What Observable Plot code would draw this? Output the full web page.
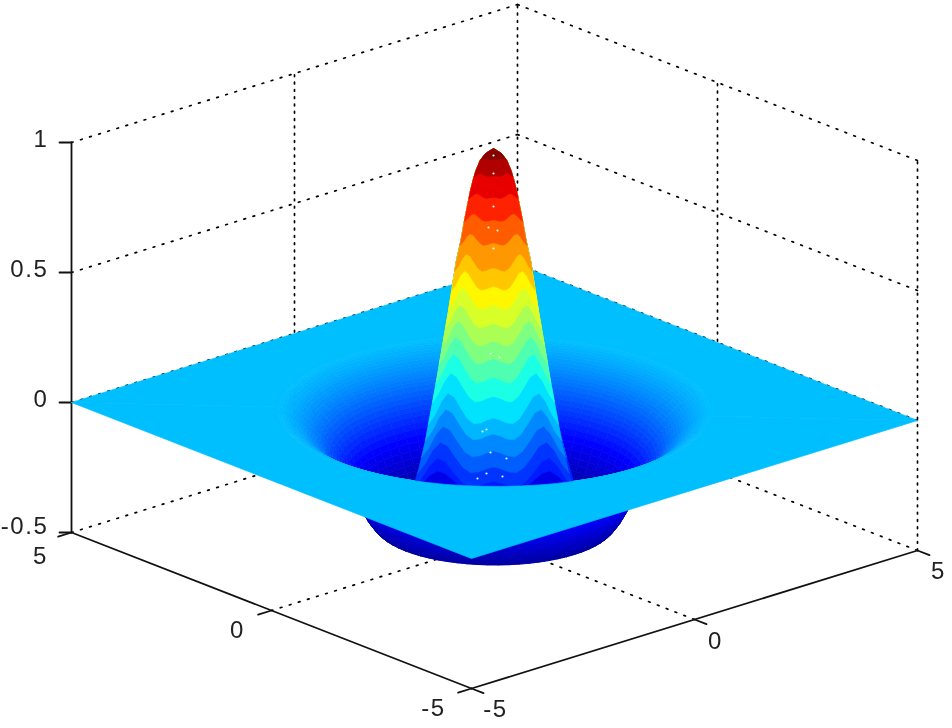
<!DOCTYPE html>
<html><head><meta charset="utf-8">
<script src="https://cdn.jsdelivr.net/npm/d3@7"></script>
<script src="https://cdn.jsdelivr.net/npm/@observablehq/plot@0.6"></script>
<style>
html,body{margin:0;padding:0;background:#fff}
svg{display:block;filter:blur(0.45px)}
svg text{letter-spacing:1.6px}
</style></head><body><div id="c"></div>
<script>
// axis tick labels
const zTicks=[1,0.5,0,-0.5];
const zLabels=["1","0.5","0","-0.5"];
const xyTicks=[-5,0,5];
const yLabelPos=[{t:"5",x:40,y:556},{t:"0",x:237,y:630},{t:"-5",x:433,y:708}];
const xLabelPos=[{t:"-5",x:495,y:709},{t:"0",x:715,y:641},{t:"5",x:938,y:571}];
// jet colour map, anchored on z
const jetZ=[-0.4545,-0.2727,0.0909,0.4545,0.8182,1];
const jetColors=["#00008f","#0000ff","#00ffff","#ffff00","#ff0000","#800000"];
// bowl radial profile
const bowlR=[1,1.1,1.2,1.3,1.4,1.5,1.6,1.7,1.8,1.9,2,2.05,2.1,2.15,2.2,2.25,2.3,2.35,2.4,2.45,2.5,2.55,2.6,2.65,2.7,2.75,2.8,2.85,2.9,2.95,3,3.05,3.1,3.15,3.2,3.25,3.3,3.35,3.4,3.45,3.5,3.55,3.6];
const bowlZ=[0,-.09,-.18,-.26,-.32,-.36,-.39,-.41,-.425,-.43,-.43,-.42,-.405,-.39,-.37,-.35,-.33,-.305,-.28,-.26,-.24,-.22,-.2,-.185,-.17,-.155,-.14,-.125,-.11,-.1,-.09,-.08,-.07,-.06,-.05,-.042,-.034,-.027,-.02,-.014,-.009,-.004,0];
const holeR=3.6;
// peak silhouette, picture rows and half widths
const peakCx=493;
const peakY=[148,153,160,170,180,190,200,220,240,260,285,310,350,380,410,440,470,482,492];
const peakHW=[0,8,13.3,17.5,20.5,23,25,29,32.5,37,41,45,52,57,62.5,68,75,79,81];
// colour bands on the peak: row where the arches top out, and arch height
const bandY=[470,457,441,425,408,392,372,353,336,320,304,287,270,253,233,213,193,173,158];
const bandAmp=[20,30,32,32,32,32,30,30,28,26,24,22,20,18,12,8,5,3,1];
// arch shape across the peak
const archU=[-1,-.9,-.8,-.7,-.6,-.5,-.4,-.3,-.2,-.1,0,.1,.2,.3,.4,.5,.6,.7,.8,.9,1];
const archH=[0,.3,.72,.98,.85,.5,.18,.02,.05,.14,.2,.14,.05,.02,.18,.5,.85,.98,.72,.3,0];
// pale specks on the peak
const speckX=[493,493,493,488,497,493,490,499,486,482,490,506,486,502,477];
const speckY=[155,173,206,227,230,248,353,357,429,431,452,458,473,476,478];

// projection of the 3D axes box on the picture
const P=(x,y,z)=>[471+(x+5)*44.6+(y+5)*-40, 688+(x+5)*-13.8+(y+5)*-15.6+(z+0.5)*-260];
const seg=(id,a,b)=>[a,b].map(p=>{const [x,y]=P(...p);return {id,x,y};});

const horizontals=[],verticals=[],solids=[];
let n=0;
for(const z of zTicks){
  horizontals.push(...seg(n++,[-5,5,z],[5,5,z]));
  horizontals.push(...seg(n++,[5,5,z],[5,-5,z]));
}
horizontals.push(...seg(n++,[0,5,-.5],[0,-5,-.5]));
horizontals.push(...seg(n++,[5,0,-.5],[-5,0,-.5]));
for(const t of [0,5]) verticals.push(...seg(n++,[t,5,-.5],[t,5,1]));
for(const t of [0,-5]) verticals.push(...seg(n++,[5,t,-.5],[5,t,1]));

solids.push(...seg(n++,[-5,5,-.5],[-5,5,1]));
solids.push(...seg(n++,[-5,5,-.5],[-5,-5,-.5]));
solids.push(...seg(n++,[-5,-5,-.5],[5,-5,-.5]));
for(const z of zTicks){const [x,y]=P(-5,5,z);solids.push({id:n,x,y},{id:n++,x:x-12,y});}
for(const t of xyTicks){
  solids.push(...seg(n++,[t,-5,-.5],[t,-5.3,-.5]));
  solids.push(...seg(n++,[-5,t,-.5],[-5.3,t,-.5]));
}

// bowl polygons, far ones first
const rad=d=>d*Math.PI/180;
const quads=[];
const step=5;
for(let i=0;i<bowlR.length-1;i++) for(let a=0;a<360;a+=step){
  const pts=[[bowlR[i],a,bowlZ[i]],[bowlR[i+1],a,bowlZ[i+1]],[bowlR[i+1],a+step,bowlZ[i+1]],[bowlR[i],a+step,bowlZ[i]],[bowlR[i],a,bowlZ[i]]];
  const m=rad(a+step/2), depth=(bowlR[i]+bowlR[i+1])/2*(Math.cos(m)+Math.sin(m));
  quads.push({depth,v:(bowlZ[i]+bowlZ[i+1])/2,pts});
}
quads.sort((p,q)=>q.depth-p.depth);
const bowl=[];
quads.forEach((q,k)=>q.pts.forEach(([r,a,z])=>{const [x,y]=P(r*Math.cos(rad(a)),r*Math.sin(rad(a)),z);bowl.push({id:k,x,y,v:q.v});}));

// peak bands
const hwAt=y=>{let i=d3.bisectRight(peakY,y)-1;i=Math.max(0,Math.min(peakY.length-2,i));
  return peakHW[i]+(peakHW[i+1]-peakHW[i])*(y-peakY[i])/(peakY[i+1]-peakY[i]);};
const zAt=y=>(410-y)/260;
const peak=[];
peakY.slice().reverse().forEach(y=>peak.push({id:-1,x:peakCx-hwAt(y),y,v:zAt(490)}));
peakY.forEach(y=>peak.push({id:-1,x:peakCx+hwAt(y),y,v:zAt(490)}));
bandY.forEach((by,b)=>{
  const amp=bandAmp[b], base=by+amp, hw=hwAt(base), v=zAt(by+amp*0.35-6);
  const up=peakY.filter(y=>y<base);
  archU.forEach((u,j)=>peak.push({id:b,x:peakCx+u*hw,y:base-amp*archH[j],v}));
  up.slice().reverse().forEach(y=>peak.push({id:b,x:peakCx+hwAt(y),y,v}));
  up.forEach(y=>peak.push({id:b,x:peakCx-hwAt(y),y,v}));
  peak.push({id:b,x:peakCx-hw,y:base,v});
});

// flat sheet around the hole: a back piece behind the peak, a front piece before it
const sheetFront=[],sheetBack=[];
const pushP=(arr,p)=>{const [x,y]=P(...p);arr.push({x,y,v:0});};
[[-5,5,0],[-5,-5,0],[5,-5,0]].forEach(p=>pushP(sheetFront,p));
d3.range(-45,-226,-5).forEach(a=>pushP(sheetFront,[holeR*Math.cos(rad(a)),holeR*Math.sin(rad(a)),0]));
pushP(sheetFront,[-5,5,0]);
[[-5,5,0],[5,5,0],[5,-5,0]].forEach(p=>pushP(sheetBack,p));
d3.range(-45,136,5).forEach(a=>pushP(sheetBack,[holeR*Math.cos(rad(a)),holeR*Math.sin(rad(a)),0]));
pushP(sheetBack,[-5,5,0]);

const zLab=zTicks.map((z,i)=>({t:zLabels[i],x:P(-5,5,z)[0]-23,y:P(-5,5,z)[1]-(i===3?6:3)}));
const font="Liberation Sans";
const fig=Plot.plot({
  width:952,height:728,margin:0,
  x:{domain:[0,952],range:[0,952],axis:null},
  y:{domain:[0,728],range:[0,728],axis:null},
  color:{type:"linear",domain:jetZ,range:jetColors,interpolate:"rgb"},
  marks:[
    Plot.line(horizontals,{x:"x",y:"y",z:"id",stroke:"#000",strokeWidth:1.7,strokeDasharray:"1.7 7.8"}),
    Plot.line(verticals,{x:"x",y:"y",z:"id",stroke:"#000",strokeWidth:1.7,strokeDasharray:"1.7 5.6"}),
    Plot.line(solids,{x:"x",y:"y",z:"id",stroke:"#111",strokeWidth:1.8}),
    Plot.line(bowl,{x:"x",y:"y",z:"id",fill:"v",stroke:"v",strokeWidth:0.7}),
    Plot.line(sheetBack,{x:"x",y:"y",fill:"v",stroke:"v",strokeWidth:0.7}),
    Plot.line(peak,{x:"x",y:"y",z:"id",fill:"v",stroke:"v",strokeWidth:0.5}),
    Plot.dot(speckX.map((x,i)=>({x,y:speckY[i]})),{x:"x",y:"y",r:1.1,fill:"#d8ffff"}),
    Plot.line(sheetFront,{x:"x",y:"y",fill:"v",stroke:"v",strokeWidth:0.7}),
    Plot.text(zLab,{x:"x",y:"y",text:"t",textAnchor:"end",fontSize:24,fontFamily:font,fill:"#222"}),
    Plot.text(yLabelPos,{x:"x",y:"y",text:"t",fontSize:24,fontFamily:font,fill:"#222"}),
    Plot.text(xLabelPos,{x:"x",y:"y",text:"t",fontSize:24,fontFamily:font,fill:"#222"})
  ]
});
document.getElementById("c").append(fig);
</script></body></html>
